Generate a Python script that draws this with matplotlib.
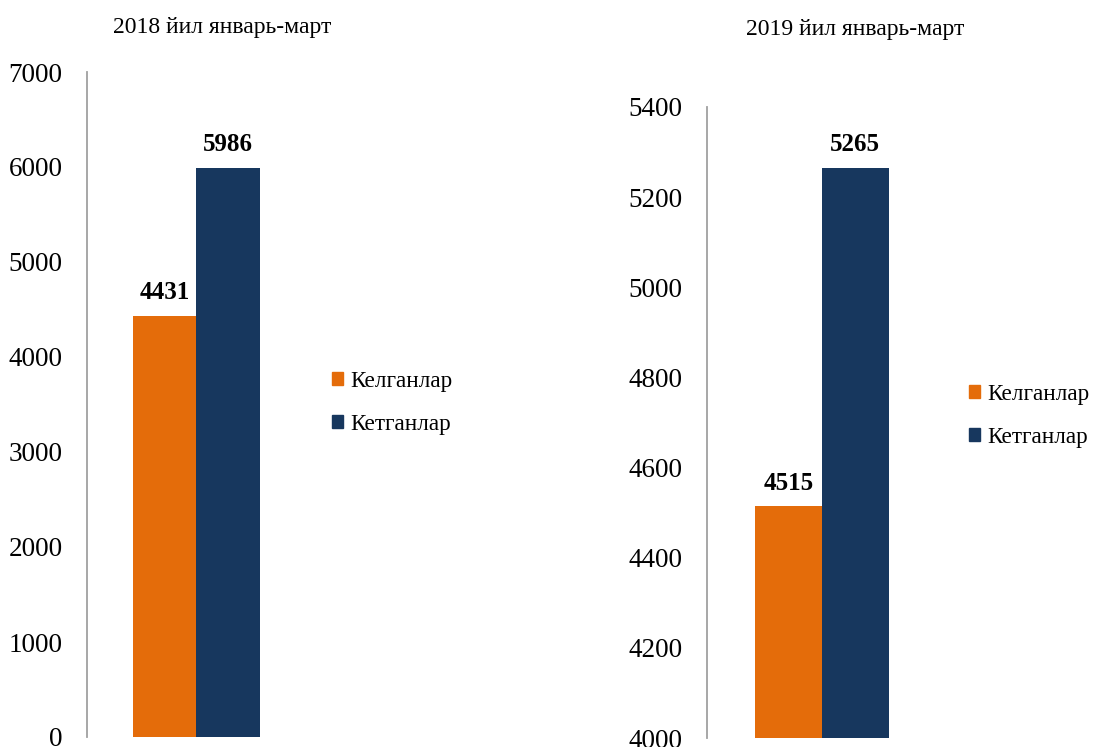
import matplotlib.pyplot as plt
from matplotlib.patches import Patch

plt.rcParams['font.family'] = ['Liberation Serif', 'DejaVu Serif']

series = ['Келганлар', 'Кетганлар']
colors = ['#E46C0A', '#17375E']

titles = ['2018 йил январь-март', '2019 йил январь-март']
vals_2018 = [4431, 5986]
vals_2019 = [4515, 5265]

fig = plt.figure(figsize=(10.95, 7.47), dpi=100)

# left panel
ax1 = fig.add_axes([87/1095, 1-737/747, 223/1095, (737-72)/747])
# right panel
ax2 = fig.add_axes([707/1095, 1-738/747, 223/1095, (738-107)/747])

setups = [
    (ax1, vals_2018, (0, 7000), range(0, 7001, 1000), 0.3475, 0.285),
    (ax2, vals_2019, (4000, 5400), range(4000, 5401, 200), 0.365, 0.30),
]

for ax, vals, ylim, ticks, x0, w in setups:
    xs = [x0, x0 + w]
    bars = ax.bar(xs, vals, width=w, color=colors, zorder=2)
    for b, v in zip(bars, vals):
        ax.text(b.get_x() + b.get_width()/2, v + (ylim[1]-ylim[0])*0.018, str(v),
                ha='center', va='bottom', fontsize=18, fontweight='bold')
    ax.set_xlim(0, 1)
    ax.set_ylim(*ylim)
    ax.set_yticks(list(ticks))
    ax.tick_params(axis='y', length=0, labelsize=19.5, pad=17.5)
    ax.set_xticks([])
    for s in ['top', 'right', 'bottom']:
        ax.spines[s].set_visible(False)
    ax.spines['left'].set_color('#A0A0A0')
    ax.spines['left'].set_linewidth(1.3)

fig.text(222/1095, 1-28/747, titles[0], ha='center', va='center', fontsize=17)
fig.text(855/1095, 1-30/747, titles[1], ha='center', va='center', fontsize=17)

handles = [Patch(color=c) for c in colors]
for pos in [(0.284, 1-403/747), (0.866, 1-416/747)]:
    fig.legend(handles, series, loc='center left', bbox_to_anchor=pos, frameon=False,
               fontsize=16.7, handlelength=0.48, handleheight=0.48, handletextpad=0.3,
               labelspacing=0.95)

fig.savefig('out.png', dpi=100)
